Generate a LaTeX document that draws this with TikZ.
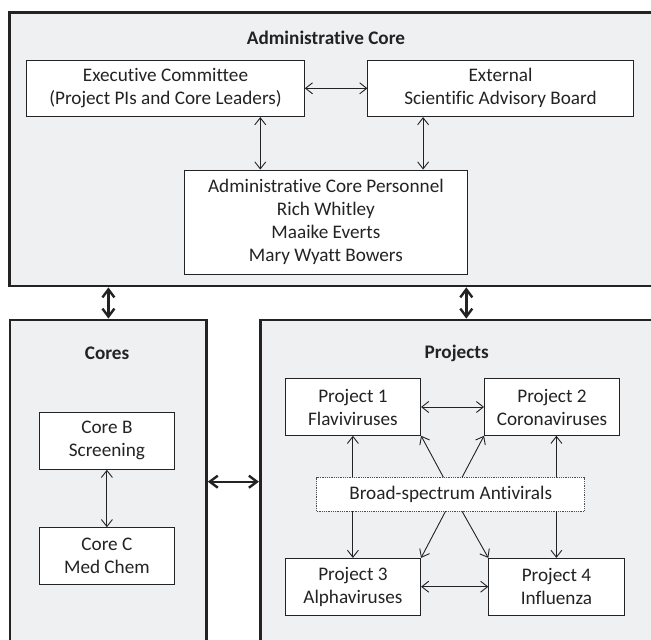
\documentclass[tikz,border=0pt]{standalone}
\usepackage{fontspec}
\setmainfont{Carlito}[Ligatures=CommonOff]
\usetikzlibrary{arrows.meta}
\definecolor{panel}{RGB}{239,240,242}
\definecolor{ink}{RGB}{35,35,35}
\tikzset{
  outerbox/.style={draw=ink, line width=2.8pt, fill=panel, inner sep=0pt},
  innerbox/.style={draw=ink, line width=0.9pt, fill=white, inner sep=0pt, align=center, text=ink},
  dotbox/.style={draw=ink!80, line width=0.8pt, densely dotted, fill=white, inner sep=0pt, align=center, text=ink},
  title/.style={font=\fontsize{19.2}{23}\selectfont\bfseries, text=ink, inner sep=0pt},
  thin/.style={draw=ink, line width=0.9pt, -{Straight Barb[length=7pt,width=11pt]}},
  thinboth/.style={draw=ink, line width=0.9pt, {Straight Barb[length=7pt,width=11pt]}-{Straight Barb[length=7pt,width=11pt]}},
  thickboth/.style={draw=ink, line width=2.4pt, {Straight Barb[length=8pt,width=12pt]}-{Straight Barb[length=8pt,width=12pt]}},
}
\begin{document}
\begin{tikzpicture}[x=1pt,y=-1pt,font=\fontsize{19.2}{23}\selectfont]
\useasboundingbox (0,0) rectangle (651,640);
\clip (0,0) rectangle (651,640);
\fill[white] (0,0) rectangle (651,640);

% outer panels
\node[outerbox, minimum width=700, minimum height=273.3] (adm) at (359.1,149.35) {};
\node[outerbox, minimum width=196.4, minimum height=400] (cores) at (108.2,520) {};
\node[outerbox, minimum width=500, minimum height=400] (proj) at (510.3,520) {};

% titles
\node[title] (admt) at (326,38) {Administrative Core};
\node[title] (corest) at (107.1,353) {Cores};
\node[title] (projt) at (456.7,353) {Projects};

% admin boxes
\node[innerbox, minimum width=277.7, minimum height=56.7] (exec) at (165.5,88.3) {Executive Committee\\(Project PIs and Core Leaders)};
\node[innerbox, minimum width=265.3, minimum height=56.7] (ext) at (500.5,88.3) {External\\Scientific Advisory Board};
\node[innerbox, minimum width=283.2, minimum height=104] (pers) at (325.9,222) {Administrative Core Personnel\\Rich Whitley\\Maaike Everts\\Mary Wyatt Bowers};

% cores
\node[innerbox, minimum width=135, minimum height=57] (coreb) at (106.9,440.8) {Core B\\Screening};
\node[innerbox, minimum width=135, minimum height=56.6] (corec) at (106.9,556) {Core C\\Med Chem};

% projects
\node[innerbox, minimum width=135.4, minimum height=56.6] (p1) at (352.9,407) {Project 1\\Flaviviruses};
\node[innerbox, minimum width=135, minimum height=56.6] (p2) at (552,407) {Project 2\\Coronaviruses};
\node[dotbox, minimum width=267.8, minimum height=33.3] (broad) at (450.7,494.3) {Broad-spectrum Antivirals};
\node[innerbox, minimum width=135.4, minimum height=56.7] (p3) at (352.9,586.7) {Project 3\\Alphaviruses};
\node[innerbox, minimum width=135.3, minimum height=56.7] (p4) at (556.4,586.7) {Project 4\\Influenza};

% helper coordinates
\coordinate (xa) at (260.3,0);
\coordinate (xb) at (423.1,0);
\coordinate (xc) at (108.4,0);
\coordinate (xd) at (466.3,0);
\coordinate (xe) at (556.4,0);
\coordinate (xf) at (443.4,0);
\coordinate (xg) at (462.1,0);
\coordinate (xh) at (445.5,0);
\coordinate (yc) at (0,481.7);

% admin connectors
\draw[thinboth] (exec.east) -- (ext.west);
\draw[thinboth] (exec.south -| xa) -- (pers.north -| xa);
\draw[thinboth] (ext.south -| xb) -- (pers.north -| xb);

% panel connectors
\draw[thickboth] (adm.south -| xc) -- (cores.north -| xc);
\draw[thickboth] (adm.south -| xd) -- (proj.north -| xd);
\draw[thickboth] (yc -| cores.east) -- (yc -| proj.west);

% cores
\draw[thinboth] (coreb.south) -- (corec.north);

% projects
\draw[thinboth] (p1.east) -- (p2.west);
\draw[thinboth] (p3.east) -- (p4.west);
\draw[thin] (broad.north -| p1.south) -- (p1.south);
\draw[thin] (broad.south -| p3.north) -- (p3.north);
\draw[thin] (broad.north -| xe) -- (p2.south -| xe);
\draw[thin] (broad.south -| xe) -- (p4.north -| xe);
\draw[thin] (broad.north -| xf) -- (p1.south east);
\draw[thin] (broad.north -| xg) -- (p2.south west);
\draw[thin] (broad.south -| xh) -- (p3.north east);
\draw[thin] (broad.south -| xg) -- (p4.north west);
\end{tikzpicture}
\end{document}
